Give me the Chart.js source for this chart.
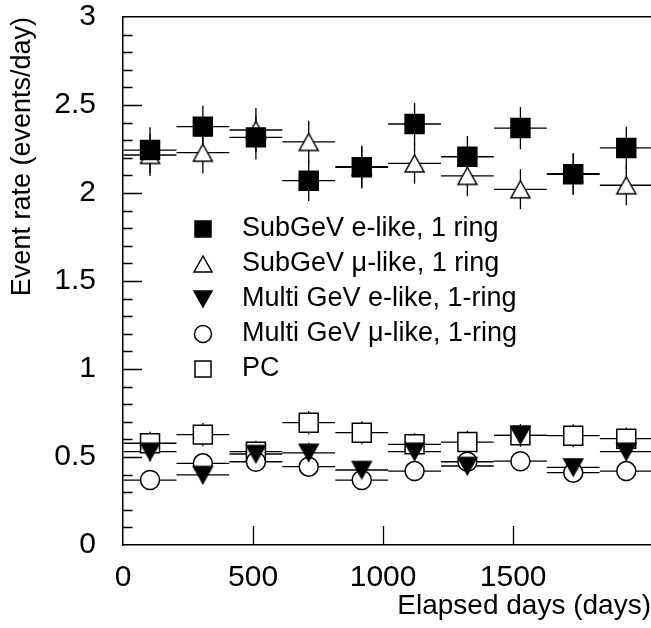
<!DOCTYPE html>
<html><head><meta charset="utf-8">
<script src="https://cdn.jsdelivr.net/npm/chart.js@4.4.1/dist/chart.umd.min.js"></script>
<style>html,body{margin:0;padding:0;background:#fff;overflow:hidden}canvas{display:block}</style>
</head><body><canvas id="c" width="651" height="628" style="width:651px;height:628px"></canvas>
<script>
// ---- data ----
const days = [104, 307, 511, 714, 918, 1121, 1324, 1528, 1731, 1935];
const daysHalfWidth = [101.5, 101.5, 101.5, 101.5, 101.5, 101.5, 101.5, 101.5, 101.5, 101.5];
const subGeVE = [2.244, 2.377, 2.316, 2.070, 2.146, 2.392, 2.206, 2.369, 2.106, 2.256];
const subGeVEErr = [0.13, 0.12, 0.125, 0.115, 0.12, 0.12, 0.118, 0.12, 0.118, 0.12];
const subGeVMu = [2.216, 2.229, 2.358, 2.290, 2.150, 2.168, 2.097, 2.021, 2.110, 2.044];
const subGeVMuErr = [0.12, 0.118, 0.125, 0.12, 0.118, 0.115, 0.115, 0.114, 0.115, 0.114];
const multiGeVE = [0.530, 0.398, 0.517, 0.524, 0.426, 0.530, 0.449, 0.623, 0.441, 0.530];
const multiGeVEErr = [0.055, 0.05, 0.055, 0.057, 0.05, 0.055, 0.05, 0.057, 0.05, 0.055];
const multiGeVMu = [0.369, 0.464, 0.473, 0.445, 0.369, 0.420, 0.473, 0.476, 0.411, 0.420];
const multiGeVMuErr = [0.045, 0.048, 0.048, 0.047, 0.045, 0.046, 0.048, 0.048, 0.046, 0.046];
const pcRate = [0.578, 0.627, 0.530, 0.695, 0.638, 0.572, 0.585, 0.623, 0.621, 0.604];
const pcRateErr = [0.065, 0.066, 0.062, 0.066, 0.065, 0.063, 0.064, 0.065, 0.065, 0.064];
const seriesLabels = ['SubGeV e-like, 1 ring', 'SubGeV \u03bc-like, 1 ring', 'Multi GeV e-like, 1-ring', 'Multi GeV \u03bc-like, 1-ring', 'PC'];
const xTickValues = [0, 500, 1000, 1500];
const yTickLabels = ['0', '0.5', '1', '1.5', '2', '2.5', '3'];

// ---- styles ----
Chart.defaults.font.family = "'Liberation Sans', Arial, Helvetica, sans-serif";
Chart.defaults.color = '#000';

function triCanvas(w, h, down, filled) {
  const c = document.createElement('canvas');
  c.width = Math.ceil(w + 4); c.height = Math.ceil(h + 4);
  const g = c.getContext('2d');
  const cx = c.width / 2, cy = c.height / 2;
  g.beginPath();
  if (!down) { g.moveTo(cx, cy - h / 2); g.lineTo(cx + w / 2, cy + h / 2); g.lineTo(cx - w / 2, cy + h / 2); }
  else { g.moveTo(cx, cy + h / 2); g.lineTo(cx + w / 2, cy - h / 2); g.lineTo(cx - w / 2, cy - h / 2); }
  g.closePath();
  g.fillStyle = filled ? '#000' : '#fff'; g.fill();
  g.lineWidth = 1.5; g.strokeStyle = '#000'; g.stroke();
  return c;
}
const triUp = triCanvas(19, 17, false, false);
const triDown = triCanvas(19, 17, true, true);
const triUpLeg = triCanvas(18, 16, false, false);
const triDownLeg = triCanvas(18, 16, true, true);

const seriesValues = [subGeVE, subGeVMu, multiGeVE, multiGeVMu, pcRate];
const seriesErrors = [subGeVEErr, subGeVMuErr, multiGeVEErr, multiGeVMuErr, pcRateErr];
const seriesStyle = [
  { pointStyle: 'rect', pointRadius: 13.4, backgroundColor: '#000' },
  { pointStyle: triUp, pointRadius: 10, backgroundColor: '#fff' },
  { pointStyle: triDown, pointRadius: 10, backgroundColor: '#000' },
  { pointStyle: 'circle', pointRadius: 9.5, backgroundColor: '#fff' },
  { pointStyle: 'rect', pointRadius: 13.4, backgroundColor: '#fff' }
];
const legendKinds = ['sqFill', 'triUp', 'triDown', 'circle', 'sqOpen'];

const datasets = seriesValues.map((vals, k) => Object.assign({
  label: seriesLabels[k],
  data: days.map((d, i) => ({ x: d, y: vals[i] })),
  borderColor: '#000',
  borderWidth: 1.5,
  pointBorderWidth: 1.5,
  showLine: false,
  clip: 0,
  xAxisID: 'x', yAxisID: 'y'
}, seriesStyle[k]));

const errorBars = {
  id: 'errorBars',
  beforeDatasetsDraw(chart) {
    const { ctx, chartArea: a } = chart;
    const xs = chart.scales.x, ys = chart.scales.y;
    ctx.save();
    ctx.beginPath(); ctx.rect(a.left, a.top, a.right - a.left, a.bottom - a.top); ctx.clip();
    ctx.strokeStyle = '#000'; ctx.lineWidth = 1.3;
    for (let k = seriesValues.length - 1; k >= 0; k--) {
      const vals = seriesValues[k], errs = seriesErrors[k];
      for (let i = 0; i < days.length; i++) {
        const x0 = xs.getPixelForValue(days[i] - daysHalfWidth[i]);
        const x1 = xs.getPixelForValue(days[i] + daysHalfWidth[i]);
        const xc = xs.getPixelForValue(days[i]);
        const yc = ys.getPixelForValue(vals[i]);
        const y0 = ys.getPixelForValue(vals[i] - errs[i]);
        const y1 = ys.getPixelForValue(vals[i] + errs[i]);
        ctx.beginPath();
        ctx.moveTo(x0, yc); ctx.lineTo(x1, yc);
        ctx.moveTo(xc, y0); ctx.lineTo(xc, y1);
        ctx.stroke();
      }
    }
    ctx.restore();
  }
};

const innerTicks = {
  id: 'innerTicks',
  afterDraw(chart) {
    const { ctx, chartArea: a } = chart;
    const xs = chart.scales.x, ys = chart.scales.y;
    ctx.save();
    ctx.strokeStyle = '#000'; ctx.lineWidth = 1.3;
    ctx.beginPath();
    ys.ticks.forEach(t => {
      const v = t.value;
      const major = Math.abs(v * 2 - Math.round(v * 2)) < 1e-6;
      if (v <= 0 || v >= 3) return;
      const y = Math.round(ys.getPixelForValue(v)) + 0.5;
      ctx.moveTo(a.left, y); ctx.lineTo(a.left + (major ? 19 : 9.5), y);
    });
    xTickValues.forEach(v => {
      if (v <= 0) return;
      const x = Math.round(xs.getPixelForValue(v)) + 0.5;
      ctx.moveTo(x, a.bottom); ctx.lineTo(x, a.bottom - 19);
    });
    ctx.stroke();
    ctx.restore();
  }
};

const legendBox = {
  id: 'legendBox',
  afterDraw(chart) {
    const ctx = chart.ctx;
    const mx = 203, tx = 242, y0 = 229, dy = 35;
    ctx.save();
    ctx.font = "27px 'Liberation Sans', Arial, sans-serif";
    ctx.textBaseline = 'middle'; ctx.textAlign = 'left';
    ctx.lineWidth = 1.5; ctx.strokeStyle = '#000';
    seriesLabels.forEach((lab, k) => {
      const y = y0 + k * dy;
      const kind = legendKinds[k];
      if (kind === 'sqFill' || kind === 'sqOpen') {
        const s = 16;
        ctx.fillStyle = kind === 'sqFill' ? '#000' : '#fff';
        ctx.fillRect(mx - s / 2, y - s / 2, s, s);
        ctx.strokeRect(mx - s / 2, y - s / 2, s, s);
      } else if (kind === 'circle') {
        ctx.beginPath(); ctx.arc(mx, y, 8.5, 0, Math.PI * 2);
        ctx.fillStyle = '#fff'; ctx.fill(); ctx.stroke();
      } else {
        const img = kind === 'triUp' ? triUpLeg : triDownLeg;
        ctx.drawImage(img, mx - img.width / 2, y - img.height / 2);
      }
      ctx.fillStyle = '#000';
      ctx.fillText(lab, tx, y);
    });
    ctx.restore();
  }
};

function noPad(s) { s.paddingTop = 0; s.paddingBottom = 0; s.paddingLeft = 0; s.paddingRight = 0; }

new Chart(document.getElementById('c'), {
  type: 'scatter',
  data: { datasets },
  options: {
    responsive: false,
    maintainAspectRatio: false,
    devicePixelRatio: 1,
    animation: false,
    layout: { padding: 0, autoPadding: false },
    plugins: { legend: { display: false }, tooltip: { enabled: false } },
    scales: {
      x: {
        type: 'linear', position: 'bottom', min: 0, max: 2030,
        grid: { display: false, drawTicks: false },
        border: { display: true, color: '#000', width: 1.5 },
        afterBuildTicks: s => { s.ticks = xTickValues.map(v => ({ value: v })); },
        ticks: { font: { size: 30, lineHeight: 1.1 }, padding: 16, maxRotation: 0, autoSkip: false,
                 callback: v => String(v) },
        title: { display: true, text: 'Elapsed days (days)', align: 'end',
                 font: { size: 28 }, padding: { top: 0, bottom: 5 } },
        afterFit: s => { s.height = 83; noPad(s); }
      },
      x2: {
        type: 'linear', position: 'top', min: 0, max: 2030,
        grid: { display: false, drawTicks: false },
        border: { display: true, color: '#000', width: 1.5 },
        ticks: { display: false },
        afterFit: s => { s.height = 17; noPad(s); }
      },
      y: {
        type: 'linear', position: 'left', min: 0, max: 3,
        grid: { display: false, drawTicks: false },
        border: { display: true, color: '#000', width: 1.5 },
        ticks: { stepSize: 0.1, autoSkip: false, padding: 27, font: { size: 30, lineHeight: 1.1 },
                 callback: v => { const idx = Math.round(v * 2); return Math.abs(v * 2 - idx) < 1e-6 ? yTickLabels[idx] : ''; } },
        title: { display: true, text: 'Event rate (events/day)', align: 'end',
                 font: { size: 27 }, padding: { top: 6, bottom: 0 } },
        afterFit: s => { s.width = 123; noPad(s); }
      }
    }
  },
  plugins: [errorBars, innerTicks, legendBox]
});
</script>
</body></html>
